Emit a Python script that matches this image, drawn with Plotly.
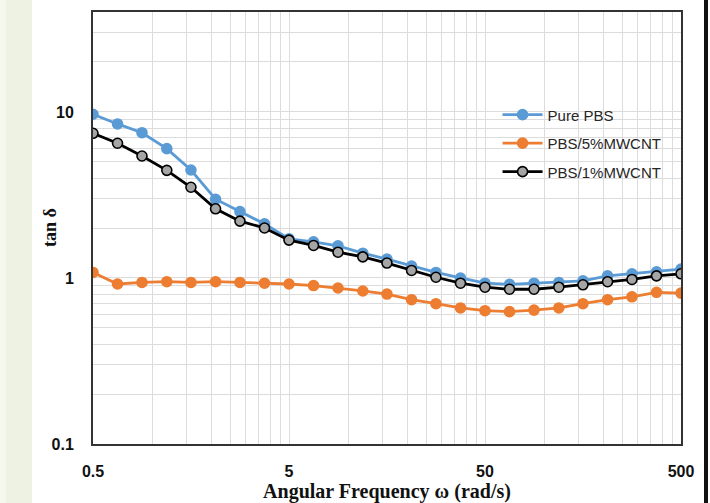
import plotly.graph_objects as go

# Angular frequency sweep (rad/s), 8 points per decade
omega = [0.5, 0.667, 0.889, 1.19, 1.58, 2.11, 2.81, 3.75, 5.0, 6.67, 8.89, 11.9,
         15.8, 21.1, 28.1, 37.5, 50.0, 66.7, 88.9, 119, 158, 211, 281, 375, 500]

# Loss tangent for each material
tan_pure = [9.69, 8.47, 7.50, 6.01, 4.47, 2.98, 2.51, 2.12, 1.72, 1.65, 1.56, 1.41,
            1.30, 1.18, 1.08, 1.00, 0.93, 0.916, 0.93, 0.94, 0.96, 1.03, 1.06, 1.09, 1.13]
tan_5 = [1.08, 0.92, 0.94, 0.95, 0.94, 0.95, 0.94, 0.93, 0.92, 0.90, 0.87, 0.835,
         0.80, 0.74, 0.70, 0.66, 0.635, 0.627, 0.64, 0.66, 0.70, 0.74, 0.77, 0.82, 0.81]
tan_1 = [7.44, 6.48, 5.43, 4.45, 3.52, 2.61, 2.20, 2.00, 1.69, 1.57, 1.43, 1.34,
         1.23, 1.11, 1.01, 0.93, 0.88, 0.855, 0.855, 0.88, 0.91, 0.95, 0.98, 1.03, 1.06]

x_ticks = [0.5, 5, 50, 500]
x_tick_text = ["0.5", "5", "50", "500"]
y_ticks = [0.1, 1, 10]
y_tick_text = ["0.1", "1", "10"]

# minor grid: multiples of the major step inside each decade
x_minor = [0.5 * k * 10 ** d for d in range(3) for k in range(2, 10)]
y_minor = [k * 10 ** d for d in (-1, 0) for k in range(2, 10)] + [20, 30]

fig = go.Figure()

series = [
    ("Pure PBS", tan_pure, "#5b9bd5", "#5b9bd5", "#5b9bd5", "g1"),
    ("PBS/5%MWCNT", tan_5, "#ed7d31", "#ed7d31", "#ed7d31", "g2"),
    ("PBS/1%MWCNT", tan_1, "#000000", "#a5a5a5", "#000000", "g3"),
]
for name, vals, line_c, fill_c, edge_c, grp in series:
    fig.add_trace(go.Scatter(
        x=omega, y=vals, name=name, mode="lines+markers", legendgroup=grp,
        line=dict(color=line_c, width=2.8),
        marker=dict(size=10, color=fill_c, line=dict(color=edge_c, width=1.6)),
    ))

axis_font = dict(family="Liberation Sans", size=16, color="#111111", weight="bold")
x_title_font = dict(family="Liberation Serif", size=20, color="#111111", weight="bold")
y_title_font = dict(family="Liberation Serif", size=18, color="#111111", weight="bold")

fig.update_layout(
    width=710, height=503,
    margin=dict(l=93, r=29, t=12, b=59),
    paper_bgcolor="white", plot_bgcolor="white",
    showlegend=True,
    legend=dict(
        x=0.688, y=0.80, xanchor="left", yanchor="top",
        bgcolor="rgba(0,0,0,0)", borderwidth=0,
        font=dict(family="Liberation Sans", size=15, color="#262626"),
        traceorder="grouped", tracegroupgap=6, itemwidth=40,
    ),
    xaxis=dict(
        type="log", range=[-0.30103, 2.69897], automargin=False,
        tickvals=x_ticks, ticktext=x_tick_text, tickfont=axis_font,
        ticks="", ticklabelstandoff=12,
        showgrid=True, gridcolor="#dcdcdc", gridwidth=1,
        minor=dict(tickvals=x_minor, showgrid=True, gridcolor="#dcdcdc", gridwidth=1, ticks=""),
        showline=True, linecolor="#333333", linewidth=2, mirror=True,
        zeroline=False,
        title=dict(text="Angular Frequency ω (rad/s)", font=x_title_font, standoff=6),
    ),
    yaxis=dict(
        type="log", range=[-1, 1.60206], automargin=False,
        tickvals=y_ticks, ticktext=y_tick_text, tickfont=axis_font,
        ticks="", ticklabelstandoff=14,
        showgrid=True, gridcolor="#dcdcdc", gridwidth=1,
        minor=dict(tickvals=y_minor, showgrid=True, gridcolor="#dcdcdc", gridwidth=1, ticks=""),
        showline=True, linecolor="#333333", linewidth=2, mirror=True,
        zeroline=False,
    ),
    annotations=[dict(
        text="tan δ", textangle=-90, font=y_title_font, showarrow=False,
        xref="paper", yref="paper", x=(50 - 93) / 588, y=0.5,
        xanchor="center", yanchor="middle",
    )],
)

# slide decoration: pale strip on the left, dark rule on the right
fig.add_shape(type="rect", xref="paper", yref="paper", x0=-93 / 588, x1=-61 / 588,
              y0=-59 / 432, y1=1 + 12 / 432, fillcolor="#eef2e3", line=dict(width=0), layer="below")
fig.add_shape(type="rect", xref="paper", yref="paper", x0=-93 / 588, x1=-87 / 588,
              y0=-59 / 432, y1=1 + 12 / 432, fillcolor="#f6f8f0", line=dict(width=0), layer="below")
fig.add_shape(type="rect", xref="paper", yref="paper", x0=(704 - 93) / 588, x1=(708 - 93) / 588,
              y0=-59 / 432, y1=1 + 12 / 432, fillcolor="#111111", line=dict(width=0))

fig.write_html("out.html")
